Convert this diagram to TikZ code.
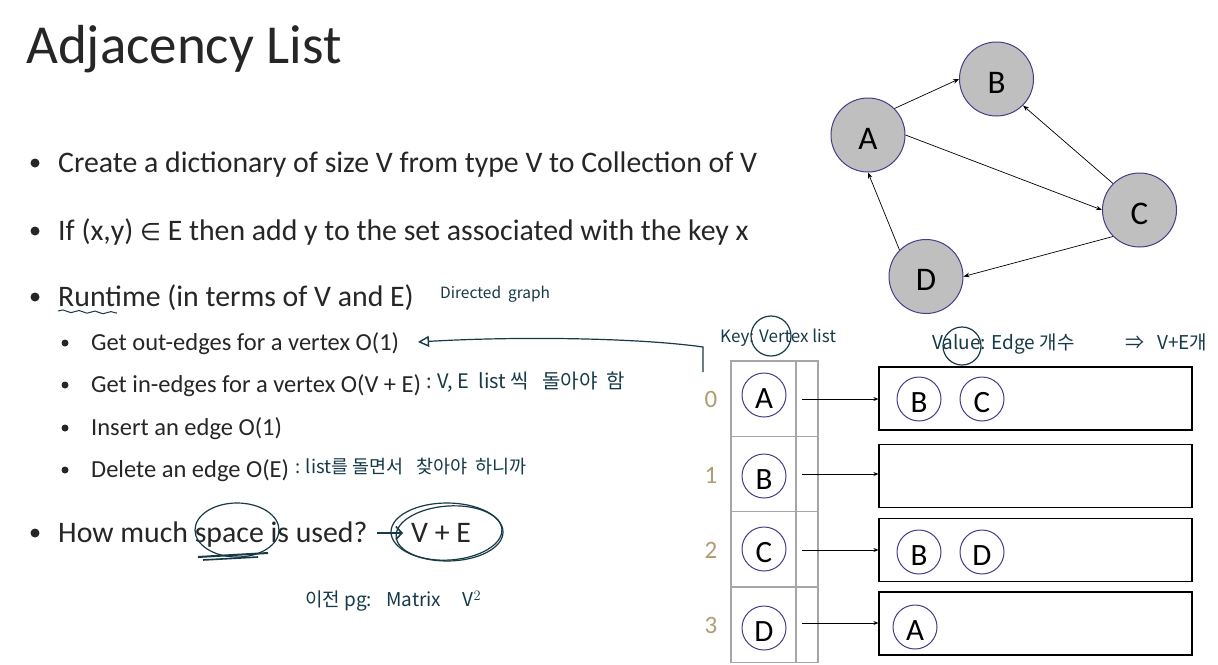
\documentclass[tikz,border=0pt]{standalone}
\usepackage{fontspec}
\setmainfont{Carlito}
\newfontfamily\kr{Noto Sans CJK KR}
\newfontfamily\dv{DejaVu Sans}
\usetikzlibrary{arrows.meta,shapes.geometric,decorations.pathmorphing}
\definecolor{txt}{HTML}{262626}
\definecolor{ink}{HTML}{173A48}
\definecolor{vborder}{HTML}{4B3A8C}
\definecolor{vfill}{HTML}{BFBFBF}
\definecolor{idx}{HTML}{B29D70}
\definecolor{cellgray}{HTML}{A6A6A6}
\newcommand{\lowr}[1]{\raisebox{-3.5pt}[\height][0pt]{#1}}
\begin{document}
\begin{tikzpicture}[x=1pt,y=-1pt,
  gnode/.style={circle,draw=vborder,line width=1pt,fill=vfill,minimum size=74pt,inner sep=0pt,font=\fontsize{33}{33}\selectfont,text=black},
  lnode/.style={circle,draw=vborder,line width=1pt,fill=white,minimum size=44pt,inner sep=0pt,font=\fontsize{31}{31}\selectfont,text=black},
  gedge/.style={-{Stealth[length=6pt,width=4.5pt]},line width=0.7pt,black},
  ledge/.style={-{Stealth[length=5pt,width=4pt]},line width=1pt,black},
  keycell/.style={rectangle,draw=cellgray,line width=1.2pt,minimum width=65pt,minimum height=75.3pt,inner sep=0pt},
  ptrcell/.style={rectangle,draw=cellgray,line width=1.2pt,minimum width=22pt,minimum height=75.3pt,inner sep=0pt},
  listbox/.style={rectangle,draw=black,line width=1.2pt,minimum width=313pt,minimum height=63pt,inner sep=0pt},
  idxlabel/.style={text=idx,font=\fontsize{25}{25}\selectfont,inner sep=0pt},
  mainitem/.style={anchor=base west,text=txt,font=\fontsize{29.8}{29.8}\selectfont,inner sep=0pt},
  subitem/.style={anchor=base west,text=txt,font=\fontsize{24.5}{24.5}\selectfont,inner sep=0pt},
  bigdot/.style={circle,fill=txt,minimum size=9pt,inner sep=0pt},
  smalldot/.style={circle,fill=txt,minimum size=7pt,inner sep=0pt},
  hand/.style={anchor=west,text=ink,inner sep=0pt},
  pen/.style={draw=ink,line width=1.2pt},
  ring/.style={ellipse,draw=ink,line width=1.2pt,inner sep=0pt}
]
\useasboundingbox[fill=white] (0,0) rectangle (1218,664);

% title
\node[anchor=base west,text=txt,font=\fontsize{55}{55}\selectfont,inner sep=0pt] (title) at (26,63) {Adjacency List};

% bullets
\node[bigdot] (d1) at (35,163) {};
\node[mainitem] (b1) at (58,172.5) {Create a dictionary of size V from type V to Collection of V};
\node[bigdot] (d2) at (35,231) {};
\node[mainitem] (b2) at (58,240.5) {If (x,y) {\dv\fontsize{24}{24}\selectfont ∈} E then add y to the set associated with the key x};
\node[bigdot] (d3) at (35,297) {};
\node[mainitem] (b3) at (58,306.5) {Runtime (in terms of V and E)};
\node[smalldot] (s1d) at (65,343) {};
\node[subitem] (s1) at (91,350.7) {Get out-edges for a vertex O(1)};
\node[smalldot] (s2d) at (65,385) {};
\node[subitem] (s2) at (91,392.7) {Get in-edges for a vertex O(V + E)};
\node[smalldot] (s3d) at (65,428) {};
\node[subitem] (s3) at (91,435.7) {Insert an edge O(1)};
\node[smalldot] (s4d) at (65,470) {};
\node[subitem] (s4) at (91,477.7) {Delete an edge O(E)};
\node[bigdot] (d4) at (35,533) {};
\node[mainitem] (b4) at (58,542.5) {How much space is used?};
\node[mainitem] (b4v) at (411,542.5) {V + E};

% graph
\node[gnode] (A) at (868,135) {\lowr{A}};
\node[gnode] (B) at (996.5,79) {\lowr{B}};
\node[gnode] (C) at (1139.5,210) {\lowr{C}};
\node[gnode] (D) at (926,276.5) {\lowr{D}};
\draw[gedge] (A.45) -- (B.west);
\draw[gedge] (A.east) -- (C.west);
\draw[gedge] (C.135) -- (B.-45);
\draw[gedge] (C.225) -- (D.east);
\draw[gedge] (D.135) -- (A.south);

% adjacency table
\foreach \i/\y/\v/\vy in {0/398.65/A/395,1/473.95/B/476,2/549.25/C/549,3/624.55/D/628}{
  \node[keycell] (k\i) at (763.5,\y) {};
  \node[ptrcell] (p\i) at (807,\y) {};
  \node[lnode] (kv\i) at (764,\vy) {\lowr{\v}};
  \node[idxlabel] (ix\i) at (711,\y+1) {\i};
}
\node[listbox] (r0) at (1035.5,398.5) {};
\node[listbox] (r1) at (1035.5,476) {};
\node[listbox] (r2) at (1035.5,550) {};
\node[listbox] (r3) at (1035.5,623.5) {};
\coordinate (q0) at (802,399);
\coordinate (q1) at (802,474);
\coordinate (q2) at (802,550);
\coordinate (q3) at (802,623);
\draw[ledge] (q0) -- (q0 -| r0.west);
\draw[ledge] (q1) -- (q1 -| r1.west);
\draw[ledge] (q2) -- (q2 -| r2.west);
\draw[ledge] (q3) -- (q3 -| r3.west);
\node[lnode] (e0a) at (919,399) {\lowr{B}};
\node[lnode] (e0b) at (982,399) {\lowr{C}};
\node[lnode] (e2a) at (919,552) {\lowr{B}};
\node[lnode] (e2b) at (982,552) {\lowr{D}};
\node[lnode] (e3a) at (915,627) {\lowr{A}};

% handwritten annotations
\node[hand,font=\kr\fontsize{15.5}{15.5}\selectfont] (hdg) at (440,294) {Directed\ \ graph};
\node[hand,font=\kr\fontsize{17}{17}\selectfont] (hkey) at (720,338) {Key: Vertex list};
\node[hand,font=\kr\fontsize{19}{19}\selectfont] (hval) at (932,344) {Value: Edge 개수 \qquad\ \ ⇒ \ \ V+E개};
\node[hand,font=\kr\fontsize{20}{20}\selectfont] (hin) at (426,382) {: V,\ E\ \ list 씩 \ \ 돌아야 \ 함};
\node[hand,font=\kr\fontsize{18.5}{18.5}\selectfont] (hdel) at (295,467) {: list를 돌면서 \ \ 찾아야 \ 하니까};
\node[hand,font=\kr\fontsize{19}{19}\selectfont] (hprev) at (305,601) {이전 pg: \ \ Matrix \ \ \ \ V$^2$};

\node[ring,minimum width=40pt,minimum height=40pt] (keyring) at (771,336) {};
\node[ring,minimum width=38pt,minimum height=38pt] (valring) at (962,346) {};
\node[ring,minimum width=84pt,minimum height=54pt] (spacering) at (237,530) {};
\node[ring,minimum width=112pt,minimum height=58pt] (vering) at (447,532) {};
\node[ring,minimum width=106pt,minimum height=54pt,rotate=4] (vering2) at (449,533) {};

\coordinate (ka) at (703,372);
\coordinate (kb) at (703,347);
\coordinate (kc) at (418,342);
\draw[pen,-{Triangle[open,length=11pt,width=11pt,line width=1.4pt]}] (ka) -- (kb) .. controls (640,338) and (520,336) .. (kc);

\coordinate (ha) at (377,533);
\coordinate (hb) at (403,533);
\draw[pen,line width=1.6pt,-{Straight Barb[length=6pt,width=13pt]}] (ha) -- (hb);

\coordinate (ua) at (58,311);
\coordinate (ub) at (117,313);
\draw[pen,line width=1pt,decorate,decoration={snake,amplitude=1.2pt,segment length=16pt}] (ua) -- (ub);

\coordinate (sa) at (198,557);
\coordinate (sb) at (268,553);
\coordinate (sc) at (203,560);
\coordinate (sd) at (258,557);
\draw[pen,line width=2pt] (sa) -- (sb);
\draw[pen,line width=1.6pt] (sc) -- (sd);
\end{tikzpicture}
\end{document}
